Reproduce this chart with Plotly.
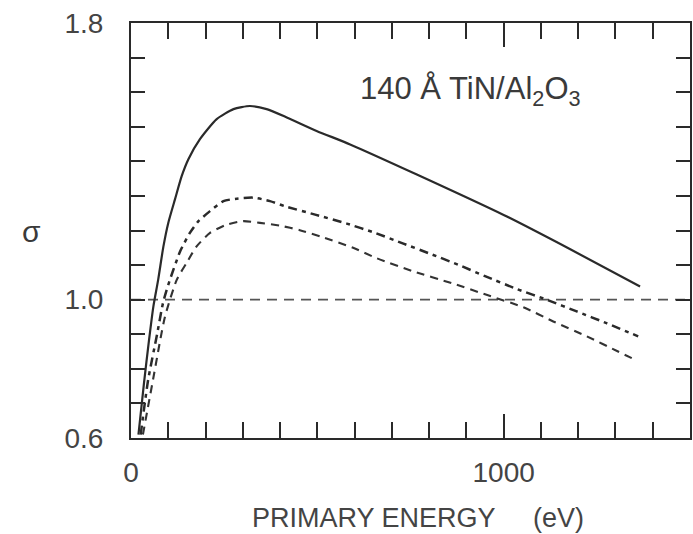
import plotly.graph_objects as go

# Solid curve
energy_a = [20, 35, 48, 60, 73, 87, 100, 118, 136, 154, 185, 230, 275, 319, 364, 418, 498, 588, 767, 1000, 1180, 1366]
sigma_a = [0.61, 0.76, 0.88, 0.98, 1.058, 1.154, 1.222, 1.290, 1.357, 1.406, 1.464, 1.522, 1.551, 1.560, 1.551, 1.527, 1.488, 1.449, 1.362, 1.245, 1.145, 1.038]

# Dash-dot curve with dots
energy_b = [26, 46, 70, 86, 100, 132, 158, 181, 212, 248, 284, 328, 373, 413, 494, 579, 655, 731, 802, 878, 950, 1035, 1120, 1196, 1276, 1361]
sigma_b = [0.61, 0.768, 0.90, 0.991, 1.043, 1.140, 1.193, 1.227, 1.256, 1.285, 1.292, 1.295, 1.285, 1.270, 1.246, 1.220, 1.193, 1.162, 1.133, 1.101, 1.068, 1.031, 0.998, 0.966, 0.932, 0.894]

# Dashed curve
energy_c = [32, 59, 91, 123, 149, 176, 212, 257, 301, 346, 400, 453, 516, 596, 659, 757, 860, 954, 1053, 1133, 1223, 1307, 1357]
sigma_c = [0.61, 0.768, 0.95, 1.058, 1.106, 1.154, 1.193, 1.217, 1.227, 1.222, 1.214, 1.201, 1.180, 1.150, 1.120, 1.082, 1.048, 1.014, 0.978, 0.937, 0.894, 0.850, 0.824]

unity_x = [0, 1500]
unity_y = [1.0, 1.0]

x_tickvals = [0, 1000]
x_ticktext = ["0", "1000"]
y_tickvals = [0.6, 1.0, 1.8]
y_ticktext = ["0.6", "1.0", "1.8"]

ink = "#2a2a2a"
text_col = "#444444"
font_family = "Liberation Sans"

fig = go.Figure()
fig.add_trace(go.Scatter(x=unity_x, y=unity_y, mode="lines",
                         line=dict(color="#555555", width=1.6, dash="10px,7px"),
                         hoverinfo="skip"))
fig.add_trace(go.Scatter(x=energy_a, y=sigma_a, mode="lines",
                         line=dict(color=ink, width=2.2, shape="spline", smoothing=0.6)))
fig.add_trace(go.Scatter(x=energy_b, y=sigma_b, mode="lines",
                         line=dict(color=ink, width=2.5, shape="spline", smoothing=0.6,
                                   dash="9px,5px,4px,5px")))
fig.add_trace(go.Scatter(x=energy_c, y=sigma_c, mode="lines",
                         line=dict(color="#333333", width=2.1, shape="spline", smoothing=0.6,
                                   dash="8px,6px")))

# in-plot label
fig.add_annotation(x=0.607, y=1.604, xref="paper", yref="y",
                   text="140 Å TiN/Al<sub>2</sub>O<sub>3</sub>",
                   showarrow=False, xanchor="center", yanchor="middle",
                   font=dict(family=font_family, size=31, color="#3a3a3a"))

# x-axis title
fig.add_annotation(x=0.513, y=0, xref="paper", yref="paper",
                   text="PRIMARY ENERGY&nbsp;&nbsp;&nbsp;&nbsp;&nbsp;(eV)",
                   showarrow=False, xanchor="center", yanchor="middle", yshift=-80,
                   font=dict(family=font_family, size=27, color=text_col))

# y-axis title
fig.add_annotation(x=-0.178, y=1.197, xref="paper", yref="y",
                   text="σ", showarrow=False, xanchor="center", yanchor="middle",
                   font=dict(family=font_family, size=30, color="#3a3a3a"))

axis_common = dict(showline=True, linecolor=ink, linewidth=2, mirror="allticks",
                   ticks="inside", tickcolor=ink, tickwidth=1.8, showgrid=False,
                   zeroline=False, tickfont=dict(family=font_family, size=28, color=text_col))

fig.update_xaxes(range=[0, 1500], tickmode="array", tickvals=x_tickvals, ticktext=x_ticktext,
                 ticklen=24, ticklabelstandoff=8,
                 minor=dict(dtick=100, ticks="inside", ticklen=16, tickcolor=ink, tickwidth=1.5, showgrid=False),
                 **axis_common)
fig.update_yaxes(range=[0.6, 1.8], tickmode="array", tickvals=y_tickvals, ticktext=y_ticktext,
                 ticklen=14, ticklabelstandoff=20,
                 minor=dict(dtick=0.1, tick0=0.6, ticks="inside", ticklen=14, tickcolor=ink, tickwidth=1.5, showgrid=False),
                 **axis_common)

fig.update_layout(width=693, height=534, margin=dict(l=131, r=1, t=23, b=96),
                  plot_bgcolor="white", paper_bgcolor="white", showlegend=False)

fig.write_html("out.html")
